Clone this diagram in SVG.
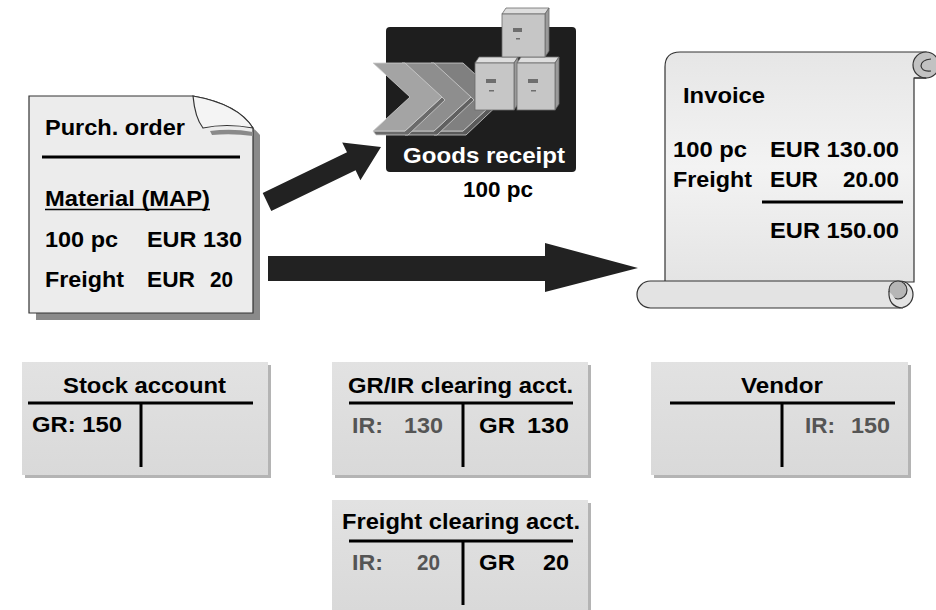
<svg xmlns="http://www.w3.org/2000/svg" width="936" height="610" viewBox="0 0 936 610">
  <defs>
    <linearGradient id="paper" x1="0" y1="0" x2="0" y2="1">
      <stop offset="0" stop-color="#e6e6e6"/>
      <stop offset="0.5" stop-color="#f3f3f3"/>
      <stop offset="1" stop-color="#e4e4e4"/>
    </linearGradient>
    <linearGradient id="acct" x1="0" y1="0" x2="0" y2="1">
      <stop offset="0" stop-color="#e2e2e2"/>
      <stop offset="1" stop-color="#d9d9d9"/>
    </linearGradient>
  </defs>
  <style>
    text { font-family: "Liberation Sans", Arial, sans-serif; font-weight: bold; font-size: 22.5px; fill: #000; }
    .dim { fill: #555; }
    .white { fill: #fff; }
    .rule { stroke: #000; stroke-width: 3; fill: none; }
    .acct-box { fill: url(#acct); }
    .acct-shadow { fill: #b4b4b4; }
    .outline { stroke: #333; stroke-width: 1.2; }
    .arrow { fill: #222; }
    .chev-edge { stroke: #cfcfcf; stroke-width: 0.8; }
  </style>

  <!-- Purchase order document -->
  <g id="purchase-order">
    <path d="M36,103 H200 Q240,112 260,135 V320 H36 Z" fill="#8a8a8a"/>
    <path d="M29,96 H193 Q238,104 253,128 V313 H29 Z" fill="#ececec" class="outline"/>
    <path d="M210,131 Q232,128 253,132 L253,136 Q232,133 212,135 Z" fill="#8a8a8a"/>
    <path d="M193,96 Q195,118 203,128 Q226,123 253,128 Q238,104 193,96 Z" fill="#f4f4f4" class="outline"/>
    <text x="45" y="135" textLength="140" lengthAdjust="spacingAndGlyphs">Purch. order</text>
    <line x1="42" y1="157" x2="240" y2="157" class="rule"/>
    <text x="45" y="206" textLength="165" lengthAdjust="spacingAndGlyphs">Material (MAP)</text>
    <line x1="45" y1="209.5" x2="210" y2="209.5" stroke="#000" stroke-width="1.6"/>
    <text x="45" y="247" textLength="73" lengthAdjust="spacingAndGlyphs">100 pc</text>
    <text x="147" y="247" textLength="95" lengthAdjust="spacingAndGlyphs">EUR 130</text>
    <text x="45" y="287" textLength="79" lengthAdjust="spacingAndGlyphs">Freight</text>
    <text x="147" y="287" textLength="48" lengthAdjust="spacingAndGlyphs">EUR</text>
    <text x="210" y="287" textLength="23" lengthAdjust="spacingAndGlyphs">20</text>
  </g>

  <!-- Goods receipt step -->
  <g id="goods-receipt">
    <rect x="386" y="27" width="190" height="145" rx="4" fill="#1e1e1e"/>
    <!-- chevrons -->
    <g class="chev-edge">
      <path d="M431,131 L463,131 L500,97 L503,100 L466,135 L434,135 Z" fill="#5a5a5a"/>
      <path d="M431,63 L463,63 L500,97 L463,131 L431,131 L468,97 Z" fill="#808080"/>
      <path d="M402,131 L434,131 L471,97 L474,100 L437,135 L405,135 Z" fill="#606060"/>
      <path d="M402,63 L434,63 L471,97 L434,131 L402,131 L439,97 Z" fill="#8e8e8e"/>
      <path d="M373,131 L405,131 L442,97 L445,100 L408,135 L376,135 Z" fill="#6a6a6a"/>
      <path d="M373,63 L405,63 L442,97 L405,131 L373,131 L410,97 Z" fill="#a4a4a4"/>
    </g>
    <!-- boxes -->
    <g stroke="#6a6a6a" stroke-width="0.8">
      <path d="M475,63 L479,57 L518,57 L514,63 Z" fill="#dedede"/>
      <path d="M514,63 L518,57 L518,104 L514,110 Z" fill="#9a9a9a"/>
      <rect x="475" y="63" width="39" height="47" fill="#c6c6c6"/>
      <path d="M517,63 L521,57 L559,57 L555,63 Z" fill="#dedede"/>
      <path d="M555,63 L559,57 L559,104 L555,110 Z" fill="#9a9a9a"/>
      <rect x="517" y="63" width="38" height="47" fill="#c6c6c6"/>
      <path d="M502,14 L506,8 L549,8 L545,14 Z" fill="#dedede"/>
      <path d="M545,14 L549,8 L549,51 L545,57 Z" fill="#9a9a9a"/>
      <rect x="502" y="14" width="43" height="43" fill="#c6c6c6"/>
    </g>
    <g fill="#6e6e6e">
      <rect x="513" y="28" width="9" height="4"/>
      <rect x="516" y="38" width="4" height="1.5"/>
      <rect x="486" y="79" width="10" height="4"/>
      <rect x="489" y="90" width="5" height="1.5"/>
      <rect x="528" y="79" width="10" height="4"/>
      <rect x="531" y="90" width="5" height="1.5"/>
    </g>
    <text x="403" y="163" class="white" font-size="25" textLength="162" lengthAdjust="spacingAndGlyphs">Goods receipt</text>
    <text x="463" y="197" textLength="70" lengthAdjust="spacingAndGlyphs">100 pc</text>
  </g>

  <!-- Invoice scroll -->
  <g id="invoice">
    <path d="M665,282 V67 Q665,52 680,52 H926 V78 H914 V282 Z" fill="url(#paper)" class="outline"/>
    <circle cx="926" cy="65" r="13" fill="#c2c2c2" class="outline"/>
    <path d="M914,78 H926" class="outline" fill="none"/>
    <path d="M931,59 Q921,60 921,66 Q922,72 931,71" fill="none" class="outline"/>
    <rect x="637" y="281" width="276" height="27" rx="13.5" fill="#e3e3e3" class="outline"/>
    <circle cx="898" cy="290" r="9" fill="#b6b6b6" class="outline"/>
    <path d="M889,291 Q888,307 903,308" fill="#e3e3e3" class="outline"/>
    <text x="683" y="103" textLength="82" lengthAdjust="spacingAndGlyphs">Invoice</text>
    <text x="673" y="157" textLength="74" lengthAdjust="spacingAndGlyphs">100 pc</text>
    <text x="770" y="157" textLength="129" lengthAdjust="spacingAndGlyphs">EUR 130.00</text>
    <text x="673" y="187" textLength="79" lengthAdjust="spacingAndGlyphs">Freight</text>
    <text x="770" y="187" textLength="48" lengthAdjust="spacingAndGlyphs">EUR</text>
    <text x="843" y="187" textLength="56" lengthAdjust="spacingAndGlyphs">20.00</text>
    <line x1="762" y1="202" x2="903" y2="202" class="rule"/>
    <text x="770" y="238" textLength="129" lengthAdjust="spacingAndGlyphs">EUR 150.00</text>
  </g>

  <!-- Flow arrows -->
  <g id="connectors">
    <polygon class="arrow" points="262.7,193 347,152.3 342.2,142.4 381,147 360.4,180.2 355.6,170.3 271.3,211"/>
    <polygon class="arrow" points="268,256 545,256 545,243 638,268 545,292 545,281 268,281"/>
  </g>

  <!-- T-accounts -->
  <g id="stock-account">
    <rect x="25" y="365" width="246" height="113" class="acct-shadow"/>
    <rect x="22" y="362" width="246" height="113" class="acct-box"/>
    <text x="63" y="393" textLength="163" lengthAdjust="spacingAndGlyphs">Stock account</text>
    <line x1="28" y1="403" x2="253" y2="403" class="rule"/>
    <line x1="141" y1="403" x2="141" y2="467" class="rule"/>
    <text x="32" y="432" textLength="90" lengthAdjust="spacingAndGlyphs">GR: 150</text>
  </g>

  <g id="gr-ir-clearing">
    <rect x="335" y="365" width="256" height="113" class="acct-shadow"/>
    <rect x="332" y="362" width="256" height="113" class="acct-box"/>
    <text x="348" y="393" textLength="225" lengthAdjust="spacingAndGlyphs">GR/IR clearing acct.</text>
    <line x1="349" y1="403" x2="573" y2="403" class="rule"/>
    <line x1="463" y1="403" x2="463" y2="467" class="rule"/>
    <text x="352" y="433" class="dim" textLength="31" lengthAdjust="spacingAndGlyphs">IR:</text>
    <text x="404" y="433" class="dim" textLength="39" lengthAdjust="spacingAndGlyphs">130</text>
    <text x="479" y="433" textLength="36" lengthAdjust="spacingAndGlyphs">GR</text>
    <text x="527" y="433" textLength="42" lengthAdjust="spacingAndGlyphs">130</text>
  </g>

  <g id="vendor">
    <rect x="654" y="365" width="257" height="113" class="acct-shadow"/>
    <rect x="651" y="362" width="257" height="113" class="acct-box"/>
    <text x="741" y="393" textLength="82" lengthAdjust="spacingAndGlyphs">Vendor</text>
    <line x1="670" y1="403" x2="895" y2="403" class="rule"/>
    <line x1="782" y1="403" x2="782" y2="467" class="rule"/>
    <text x="805" y="433" class="dim" textLength="30" lengthAdjust="spacingAndGlyphs">IR:</text>
    <text x="851" y="433" class="dim" textLength="39" lengthAdjust="spacingAndGlyphs">150</text>
  </g>

  <g id="freight-clearing">
    <rect x="335" y="503" width="256" height="110" class="acct-shadow"/>
    <rect x="332" y="500" width="256" height="110" class="acct-box"/>
    <text x="342" y="529" textLength="238" lengthAdjust="spacingAndGlyphs">Freight clearing acct.</text>
    <line x1="349" y1="541" x2="573" y2="541" class="rule"/>
    <line x1="463" y1="541" x2="463" y2="605" class="rule"/>
    <text x="352" y="570" class="dim" textLength="31" lengthAdjust="spacingAndGlyphs">IR:</text>
    <text x="417" y="570" class="dim" textLength="23" lengthAdjust="spacingAndGlyphs">20</text>
    <text x="479" y="570" textLength="36" lengthAdjust="spacingAndGlyphs">GR</text>
    <text x="543" y="570" textLength="26" lengthAdjust="spacingAndGlyphs">20</text>
  </g>
</svg>
